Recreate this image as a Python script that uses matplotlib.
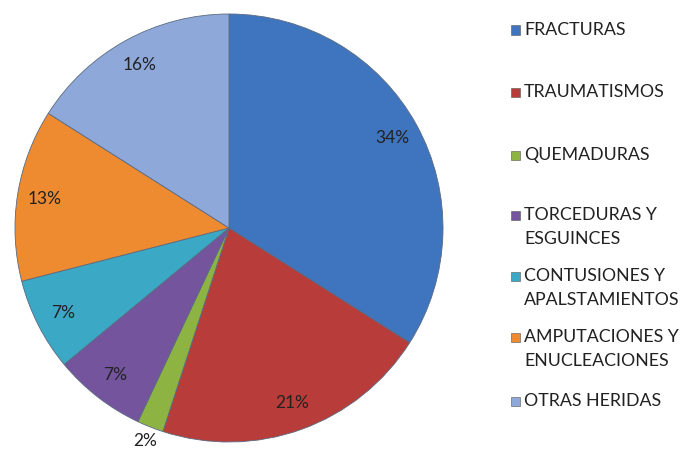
import matplotlib
matplotlib.use("Agg")
import matplotlib.pyplot as plt
from matplotlib.patches import Rectangle
import numpy as np

categories = ["FRACTURAS", "TRAUMATISMOS", "QUEMADURAS", "TORCEDURAS Y\nESGUINCES",
              "CONTUSIONES Y\nAPALSTAMIENTOS", "AMPUTACIONES Y\nENUCLEACIONES", "OTRAS HERIDAS"]
values = [34, 21, 2, 7, 7, 13, 16]
colors = ["#3F75BE", "#B83C39", "#8DB443", "#74549C", "#3BA8C5", "#EE8A30", "#8EA9D9"]

plt.rcParams['font.family'] = ['Lato', 'DejaVu Sans']

fig = plt.figure(figsize=(6.83, 4.5), dpi=100)
ax = fig.add_axes([15/683, 8/450, 428/683, 428/450])

wedges, texts, autotexts = ax.pie(values, colors=colors, startangle=90, counterclock=False,
                                  autopct=lambda p: f"{p:.0f}%", pctdistance=0.87,
                                  wedgeprops=dict(edgecolor="#5a6a80", linewidth=0.6),
                                  textprops=dict(fontsize=12.5, color="#222222"))
ax.set_xlim(-1, 1)
ax.set_ylim(-1, 1)
ax.set_aspect('equal')

# small slice label outside
w = wedges[2]
ang = np.deg2rad((w.theta1 + w.theta2) / 2)
autotexts[2].set_position((1.07 * np.cos(ang), 1.07 * np.sin(ang)))

# legend drawn to match Excel layout
first_line_y = [30, 92, 155, 215, 276, 337, 401]
for lab, col, yp in zip(categories, colors, first_line_y):
    sq = 9
    fig.patches.append(Rectangle((511 / 683, 1 - (yp + sq / 2) / 450), sq / 683, sq / 450,
                                 transform=fig.transFigure, facecolor=col,
                                 edgecolor="#555555", linewidth=0.4))
    fig.text(524 / 683, 1 - (yp - 8) / 450, lab, fontsize=12.8, color="#222222",
             va='top', ha='left', linespacing=1.6)

fig.savefig("out.png", dpi=100)
